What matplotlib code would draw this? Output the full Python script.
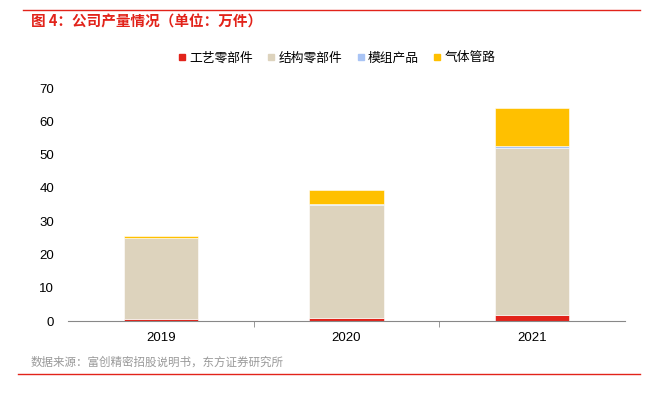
import numpy as np
import matplotlib.pyplot as plt
from matplotlib.lines import Line2D

plt.rcParams['font.family'] = ['Noto Sans CJK SC', 'DejaVu Sans']

years = ["2019", "2020", "2021"]
series_names = ["工艺零部件", "结构零部件", "模组产品", "气体管路"]
craft = [0.6, 1.0, 1.8]
structure = [24.3, 34.0, 50.1]
module = [0.1, 0.3, 0.7]
gas = [0.5, 4.2, 11.4]
colors = ["#E2231A", "#DDD3BD", "#A9C4F5", "#FFC000"]

fig = plt.figure(figsize=(6.6, 3.93), dpi=100)
ax = fig.add_axes([68 / 660, 1 - 321 / 393, 557 / 660, 233 / 393])

x = np.arange(len(years))
bottom = np.zeros(len(years))
for name, vals, c in zip(series_names, [craft, structure, module, gas], colors):
    ax.bar(x, vals, width=0.4, bottom=bottom, color=c, edgecolor="white", linewidth=0.4, label=name)
    bottom += np.array(vals)

ax.set_xlim(-0.5, 2.5)
ax.set_ylim(0, 70)
ax.set_yticks(range(0, 71, 10))
ax.set_xticks(x)
ax.set_xticklabels(years)
ax.set_xticks([0.5, 1.5], minor=True)
ax.tick_params(axis="x", which="major", length=0, pad=8, labelsize=9.5)
ax.tick_params(axis="x", which="minor", length=4, color="#888888")
ax.tick_params(axis="y", length=0, pad=10, labelsize=9.5)
for lbl in ax.get_xticklabels() + ax.get_yticklabels():
    lbl.set_family(["Liberation Sans", "DejaVu Sans"])
for s in ["top", "right", "left"]:
    ax.spines[s].set_visible(False)
ax.spines["bottom"].set_color("#888888")

handles = [Line2D([], [], marker="s", linestyle="", color=c, markersize=4.5) for c in colors]
fig.legend(handles, series_names, loc="center", bbox_to_anchor=(337 / 660, 1 - 58 / 393),
           ncol=4, frameon=False, fontsize=9.2, handlelength=0.5, handletextpad=0.3,
           columnspacing=1.2)

fig.add_artist(Line2D([23 / 660, 640 / 660], [1 - 10 / 393, 1 - 10 / 393], color="#E2231A", linewidth=1))
fig.text(31 / 660, 1 - 22 / 393, "图 4：公司产量情况（单位：万件）", color="#E2231A", fontsize=10.5,
         fontweight="bold", va="center", ha="left")
fig.text(31 / 660, 1 - 362 / 393, "数据来源：富创精密招股说明书，东方证券研究所", color="#999999", fontsize=8.3,
         va="center", ha="left")
fig.add_artist(Line2D([18 / 660, 640 / 660], [1 - 374 / 393, 1 - 374 / 393], color="#E2231A", linewidth=1))

fig.savefig("out.png", dpi=100)
